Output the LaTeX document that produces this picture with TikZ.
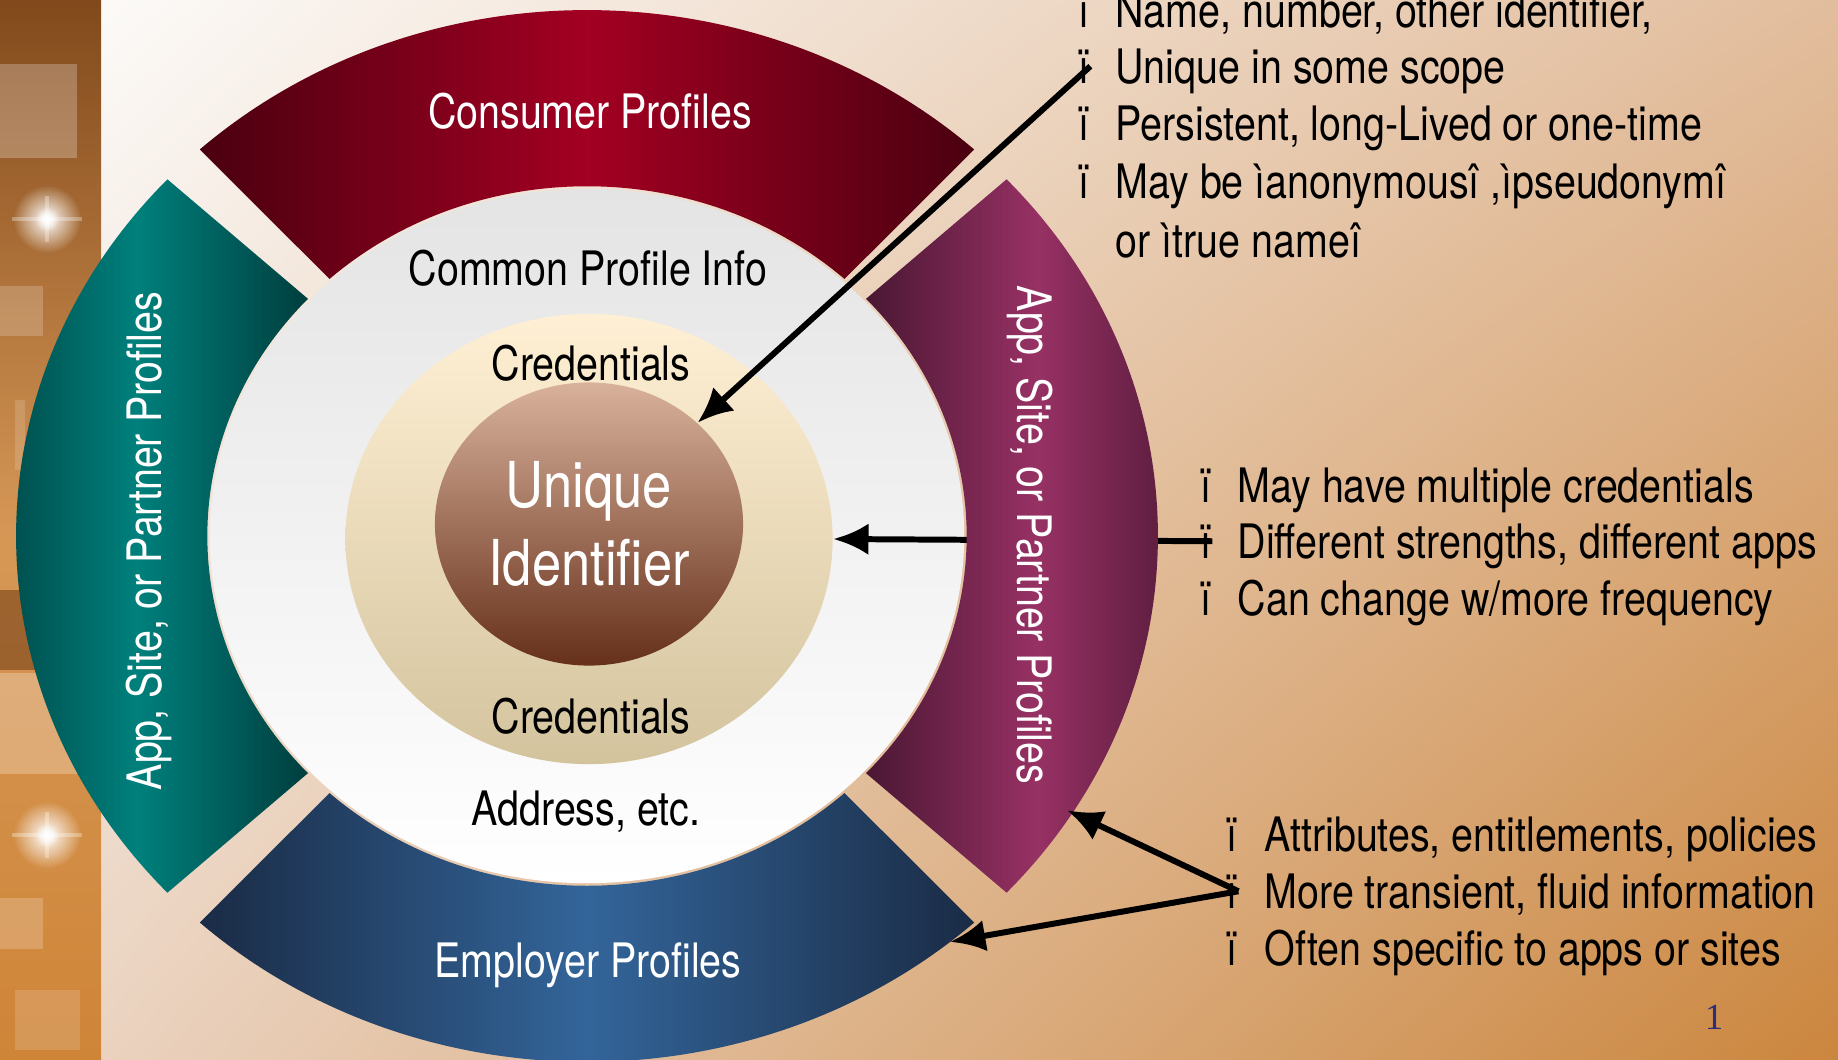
\documentclass[tikz,border=0pt]{standalone}
\usepackage{fontspec}
\setmainfont{TeX Gyre Heros}[FakeStretch=0.83]
\newfontfamily\numfont{Liberation Serif}
\usetikzlibrary{positioning,shapes.geometric,arrows.meta,fadings,shadings}

\definecolor{crdark}{HTML}{4A0010}
\definecolor{crbright}{HTML}{A30022}
\definecolor{bldark}{HTML}{1A2B45}
\definecolor{blbright}{HTML}{33659A}
\definecolor{tldark}{HTML}{003E3E}
\definecolor{tlbright}{HTML}{00807C}
\definecolor{pudark}{HTML}{4A1733}
\definecolor{pubright}{HTML}{973164}
\definecolor{disctop}{HTML}{E4E4E4}
\definecolor{credtop}{HTML}{FFF0D5}
\definecolor{credbot}{HTML}{D3C39D}
\definecolor{uidtop}{HTML}{D9B29C}
\definecolor{uidbot}{HTML}{66301A}
\definecolor{bgul}{HTML}{FCFAF8}
\definecolor{bgur}{HTML}{E2BD9D}
\definecolor{bgll}{HTML}{EAD2BF}
\definecolor{bglr}{HTML}{CB863E}
\definecolor{stripbase}{HTML}{CF8538}
\definecolor{stripdark}{HTML}{6E3A14}
\definecolor{pagenum}{HTML}{2E2E7E}

\tikzfading[name=softglow, inner color=transparent!0, outer color=transparent!100]

\tikzset{
  lbl/.style={inner sep=0pt, font=\fontsize{13.5}{16}\selectfont},
  seglbl/.style={lbl, text=white, anchor=base},
  ringlbl/.style={lbl, anchor=base},
  blt/.style={lbl, anchor=base west},
  arr/.style={line width=1.7pt, -{Latex[length=10pt,width=9pt]}},
  glow/.style={white, path fading=softglow},
}

\begin{document}
\begin{tikzpicture}[x=0.01cm, y=-0.01cm]
\def\cx{587}
\def\cy{536}
\def\rin{0.665}

\useasboundingbox (0,0) rectangle (1838,1060);
\shade[upper left=bgul, upper right=bgur, lower left=bgll, lower right=bglr] (101,0) rectangle (1838,1060);

\shade[top color=stripdark!80!stripbase, bottom color=stripbase, middle color=stripbase!85!white] (0,0) rectangle (101,1060);
\fill[white, opacity=.25] (0,64) rectangle (77,158);
\fill[white, opacity=.2] (0,286) rectangle (43,336);
\fill[white, opacity=.15] (15,400) rectangle (25,470);
\fill[stripdark, opacity=.55] (0,590) rectangle (101,670);
\fill[white, opacity=.25] (0,673) rectangle (77,774);
\fill[white, opacity=.2] (0,898) rectangle (43,949);
\fill[white, opacity=.15] (15,990) rectangle (80,1050);
\fill[glow] (47,219) circle (34);
\fill[glow] (47,219) circle (12);
\fill[glow] (47,835) circle (34);
\fill[glow] (47,835) circle (12);
\draw[white, opacity=.3, line width=1pt] (12,219) -- (82,219) (47,196) -- (47,242);
\draw[white, opacity=.3, line width=1pt] (12,835) -- (82,835) (47,812) -- (47,858);

\node[ellipse, minimum width=7.54cm, minimum height=6.94cm, inner sep=0pt,
  top color=disctop, bottom color=white] (info) at (\cx,\cy) {};
\node[ellipse, minimum width=4.87cm, minimum height=4.50cm, inner sep=0pt,
  top color=credtop, bottom color=credbot] (cred) at (589,539) {};
\node[ellipse, minimum width=3.08cm, minimum height=2.83cm, inner sep=0pt,
  top color=uidtop, bottom color=uidbot, text=white, align=center,
  font=\fontsize{18}{22}\selectfont] (uid) at (589,524) {Unique\\Identifier};

\node[blt] (b1) at (1078,27) {ï};
\node[blt] (b2) at (1078,83) {ï};
\node[blt] (b3) at (1078,140) {ï};
\node[blt] (b4) at (1078,198) {ï};
\node[blt] (t1) at (1115,27) {Name, number, other identifier,};
\node[blt] (t2) at (1115,83) {Unique in some scope};
\node[blt] (t3) at (1115,140) {Persistent, long-Lived or one-time};
\node[blt] (t4) at (1115,198) {May be ìanonymousî ,ìpseudonymî};
\node[blt] (t5) at (1115,257) {or ìtrue nameî};

\node[blt] (c1) at (1200,502) {ï};
\node[blt] (c2) at (1200,558) {ï};
\node[blt] (c3) at (1200,615) {ï};
\node[blt] (u1) at (1237,502) {May have multiple credentials};
\node[blt] (u2) at (1237,558) {Different strengths, different apps};
\node[blt] (u3) at (1237,615) {Can change w/more frequency};

\node[blt] (d1) at (1226,851) {ï};
\node[blt] (d2) at (1226,908) {ï};
\node[blt] (d3) at (1226,965) {ï};
\node[blt] (v1) at (1264,851) {Attributes, entitlements, policies};
\node[blt] (v2) at (1264,908) {More transient, fluid information};
\node[blt] (v3) at (1264,965) {Often specific to apps or sites};

\draw[arr] (c2.east) -- (cred.east);

\begin{scope}[shift={(\cx,\cy)}, xscale=571, yscale=-526]
\shade[left color=crdark, right color=crdark, middle color=crbright]
  (47.3:1) arc[start angle=47.3, end angle=132.7, radius=1]
  -- (132.7:\rin) arc[start angle=132.7, end angle=47.3, radius=\rin] -- cycle;
\shade[left color=tldark, right color=tldark, middle color=tlbright]
  (137.3:1) arc[start angle=137.3, end angle=222.7, radius=1]
  -- (222.7:\rin) arc[start angle=222.7, end angle=137.3, radius=\rin] -- cycle;
\shade[left color=bldark, right color=bldark, middle color=blbright]
  (227.3:1) arc[start angle=227.3, end angle=312.7, radius=1]
  -- (312.7:\rin) arc[start angle=312.7, end angle=227.3, radius=\rin] -- cycle;
\shade[left color=pudark, right color=pudark, middle color=pubright]
  (-42.7:1) arc[start angle=-42.7, end angle=42.7, radius=1]
  -- (42.7:\rin) arc[start angle=42.7, end angle=-42.7, radius=\rin] -- cycle;
\coordinate (ppedge) at (-31.8:0.99);
\coordinate (emedge) at (-50.5:1.0);
\end{scope}

\node[seglbl] (consumer) at (590,128) {Consumer Profiles};
\node[seglbl] (employer) at (588,977) {Employer Profiles};
\node[seglbl, rotate=90] (appl) at (162,541) {App, Site, or Partner Profiles};
\node[seglbl, rotate=-90] (appr) at (1017,535) {App, Site, or Partner Profiles};
\node[ringlbl] (cpi) at (588,285) {Common Profile Info};
\node[ringlbl] (credup) at (591,380) {Credentials};
\node[ringlbl] (creddn) at (591,733) {Credentials};
\node[ringlbl] (addr) at (586,825) {Address, etc.};

\draw[arr] (b2.east) -- (uid.43);
\draw[arr] (d2.east) -- (ppedge);
\draw[arr] (d2.east) -- (emedge);

\node[inner sep=0pt, anchor=base, text=pagenum, font=\numfont\fontsize{10.5}{12}\selectfont] (pnum) at (1714,1029) {1};

\end{tikzpicture}
\end{document}
